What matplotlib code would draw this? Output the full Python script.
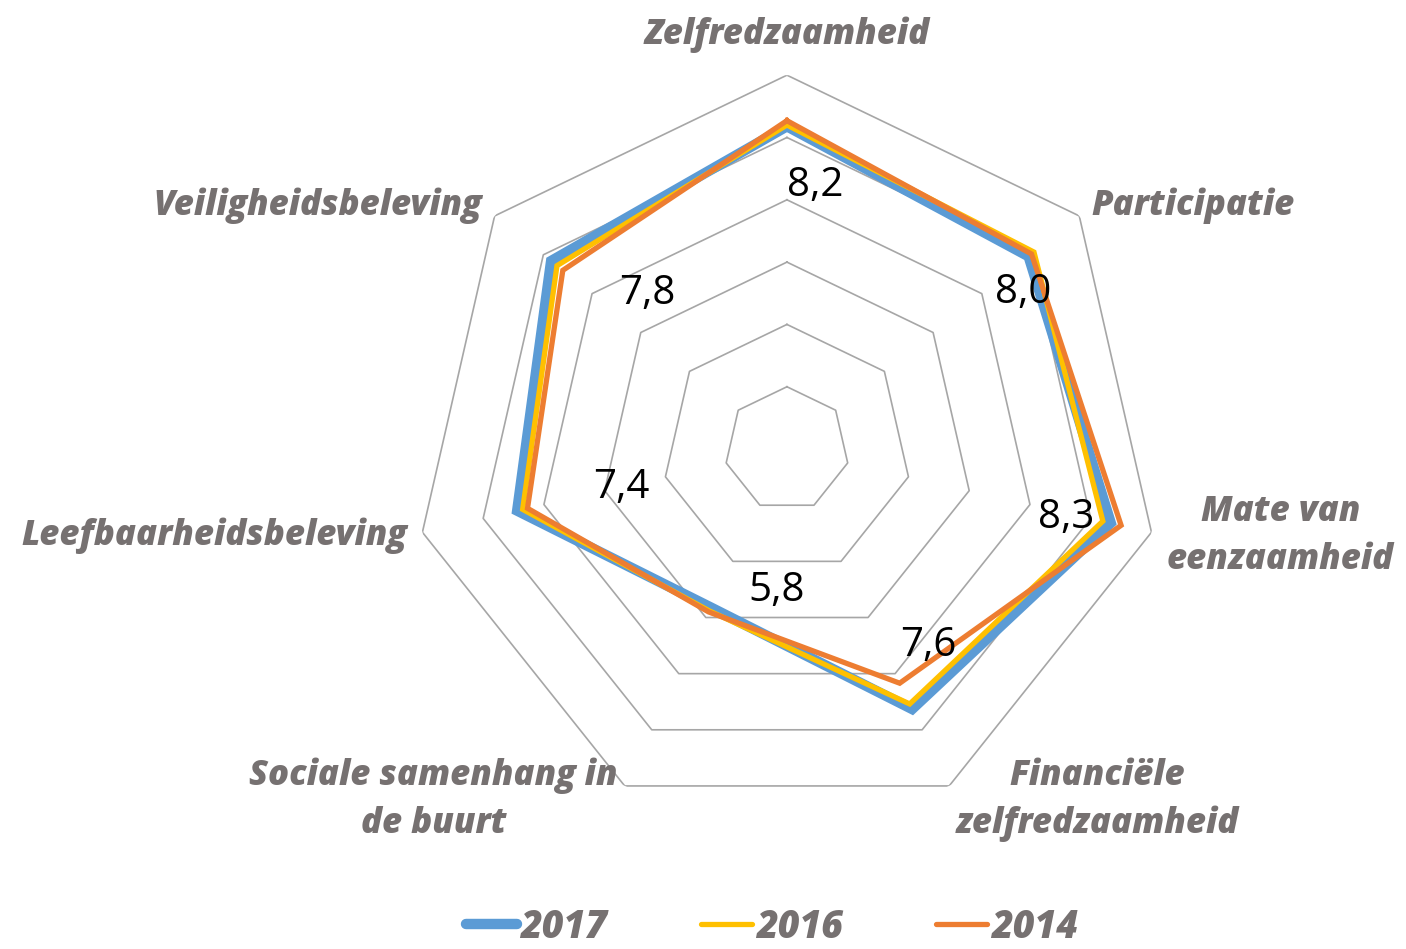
import numpy as np
import matplotlib
matplotlib.use('Agg')
import matplotlib.pyplot as plt

plt.rcParams['font.family'] = ['Open Sans', 'DejaVu Sans']

categories = ['Zelfredzaamheid', 'Participatie', 'Mate van\neenzaamheid',
              'Financiële\nzelfredzaamheid', 'Sociale samenhang in\nde buurt',
              'Leefbaarheidsbeleving', 'Veiligheidsbeleving']
v2017 = [8.18, 7.96, 8.33, 7.63, 5.82, 7.44, 7.84]
v2016 = [8.20, 8.07, 8.20, 7.54, 5.88, 7.35, 7.72]
v2014 = [8.27, 8.02, 8.50, 7.17, 5.90, 7.27, 7.60]
rings = [4, 5, 6, 7, 8, 9]

# offsets (px) of the 2017 data labels from their points
lab_off = [(28, -59), (-5, -36), (-45, 5), (16, 63), (66, 17), (104, 23), (96, -33)]

grey_txt = '#767171'
n = len(categories)
theta = np.arange(n) * 2 * np.pi / n

fig = plt.figure(figsize=(14.06, 9.49), dpi=100)
ax = fig.add_axes([0.2937, 0.1328, 0.532, 0.788], projection='polar')
ax.set_theta_zero_location('N')
ax.set_theta_direction(-1)
ax.set_ylim(3, 9)
ax.grid(False)
ax.spines['polar'].set_visible(False)
ax.set_xticks([])
ax.set_yticks([])
ax.patch.set_alpha(0)

tc = np.append(theta, theta[0])
for r in rings:
    ax.plot(tc, [r] * (n + 1), color='#A6A6A6', lw=1.2, zorder=1)

def closed(v):
    return v + v[:1]

ax.plot(tc, closed(v2017), color='#5B9BD5', lw=7.5, solid_joinstyle='miter', label='2017', zorder=2)
ax.plot(tc, closed(v2016), color='#FFC000', lw=3.8, solid_joinstyle='miter', label='2016', zorder=3)
ax.plot(tc, closed(v2014), color='#ED7D31', lw=3.8, solid_joinstyle='miter', label='2014', zorder=4)

for i in range(n):
    txt = ('%.1f' % v2017[i]).replace('.', ',')
    ax.annotate(txt, xy=(theta[i], v2017[i]), xytext=lab_off[i], textcoords='offset pixels',
                ha='center', va='center', fontsize=29, color='black', zorder=5)

for i in range(n):
    s = np.sin(theta[i])
    if i == 0:
        ax.text(theta[i], 9.36, categories[i], ha='center', va='bottom', fontsize=25,
                fontweight=800, style='italic', color=grey_txt, clip_on=False)
    else:
        ha = 'left' if s > 0 else 'right'
        ax.text(theta[i], 9.25, categories[i], ha=ha, va='center', fontsize=25,
                fontweight=800, style='italic', color=grey_txt, multialignment='center',
                linespacing=1.45, clip_on=False)

leg = fig.legend(loc='lower center', bbox_to_anchor=(0.549, -0.033), ncol=3, frameon=False,
                 handlelength=1.35, handletextpad=0.1, columnspacing=2.5,
                 prop={'size': 27, 'weight': 800, 'style': 'italic'})
for t in leg.get_texts():
    t.set_color(grey_txt)
for h in leg.get_lines():
    h.set_solid_capstyle('round')

fig.savefig('out.png', dpi=100)
